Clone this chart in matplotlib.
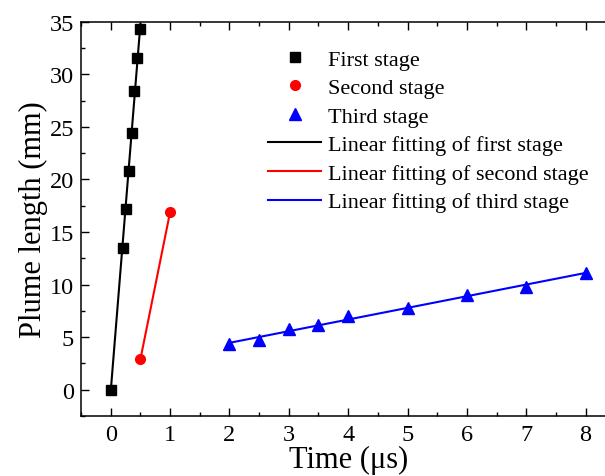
import numpy as np
import matplotlib.pyplot as plt

# Plume length measurements for the three expansion stages
t_first = [0, 0.2, 0.25, 0.3, 0.35, 0.4, 0.45, 0.5]
len_first = [0, 13.5, 17.2, 20.8, 24.4, 28.4, 31.6, 34.3]

t_second = [0.5, 1.0]
len_second = [2.9, 16.9]

t_third = [2, 2.5, 3, 3.5, 4, 5, 6, 7, 8]
len_third = [4.3, 4.75, 5.75, 6.15, 7.0, 7.75, 9.05, 9.75, 11.1]

x_ticks = [0, 1, 2, 3, 4, 5, 6, 7, 8]
y_ticks = [0, 5, 10, 15, 20, 25, 30, 35]

plt.rcParams['font.family'] = ['Liberation Serif', 'DejaVu Serif']

fig = plt.figure(figsize=(6.05, 4.77), dpi=100)
ax = fig.add_axes([0.134, 0.126, 0.883, 0.826])


def linear_fit(x, y):
    k, b = np.polyfit(x, y, 1)
    xs = np.array([min(x), max(x)])
    return xs, k * xs + b


ax.plot(t_first, len_first, 's', color='black', markersize=6.5,
        linestyle='none', label='First stage', zorder=3)
ax.plot(t_second, len_second, 'o', color='red', markersize=7,
        linestyle='none', label='Second stage', zorder=3)
ax.plot(t_third, len_third, '^', color='blue', markersize=8,
        linestyle='none', label='Third stage', zorder=3)

for xs, ys, c, name in [(t_first, len_first, 'black', 'first'),
                        (t_second, len_second, 'red', 'second'),
                        (t_third, len_third, 'blue', 'third')]:
    fx, fy = linear_fit(xs, ys)
    ax.plot(fx, fy, '-', color=c, linewidth=1.5,
            label='Linear fitting of %s stage' % name)

ax.set_xlim(-0.5, 8.5)
ax.set_ylim(-2.5, 35)
ax.set_xticks(x_ticks)
ax.set_xticklabels([str(v) for v in x_ticks])
ax.set_yticks(y_ticks)
ax.set_yticklabels([str(v) for v in y_ticks])
ax.set_xticks(np.arange(-0.5, 8.6, 0.5), minor=True)
ax.set_yticks(np.arange(-2.5, 35.1, 2.5), minor=True)
ax.tick_params(which='both', direction='in', top=True, right=True,
               labelsize=17.5, width=1)
ax.tick_params(which='major', length=6)
ax.tick_params(which='minor', length=3)
ax.tick_params(axis='x', which='major', pad=6)
ax.tick_params(axis='y', which='major', pad=5)
for s in ax.spines.values():
    s.set_linewidth(1.1)

ax.set_xlabel('Time (μs)', fontsize=22, labelpad=0)
ax.set_ylabel('Plume length (mm)', fontsize=22, labelpad=1)

ax.legend(loc='upper left', bbox_to_anchor=(268 / 605, 1 - 50 / 477),
          bbox_transform=fig.transFigure, frameon=False, fontsize=16,
          handlelength=2.4, handletextpad=0.3, labelspacing=0.36,
          borderpad=0, borderaxespad=0)

fig.savefig('out.png', dpi=100)
